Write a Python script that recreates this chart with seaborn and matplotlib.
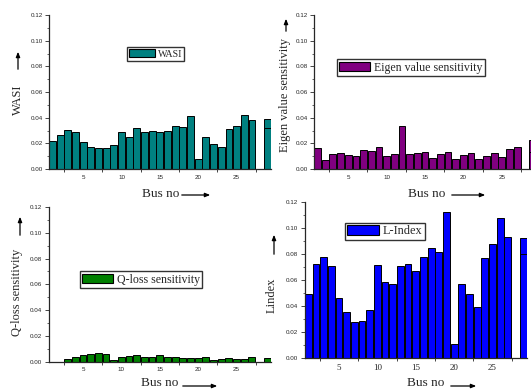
import matplotlib
matplotlib.use("Agg")
import matplotlib.pyplot as plt
import seaborn as sns
import pandas as pd
from matplotlib.patches import Patch
from matplotlib.ticker import FixedLocator, FormatStrFormatter, MultipleLocator

# ---------------- data ----------------
bus = list(range(1, 30))
wasi = [0.0215, 0.0264, 0.0303, 0.0290, 0.0210, 0.0174, 0.0166, 0.0166, 0.0184, 0.0285,
        0.0249, 0.0319, 0.0290, 0.0298, 0.0290, 0.0300, 0.0332, 0.0329, 0.0412, 0.0078,
        0.0246, 0.0197, 0.0174, 0.0308, 0.0332, 0.0420, 0.0381, 0.0, 0.0390]
eigen = [0.0162, 0.0073, 0.0113, 0.0121, 0.0111, 0.0103, 0.0149, 0.0141, 0.0168, 0.0103,
         0.0113, 0.0335, 0.0118, 0.0126, 0.0136, 0.0085, 0.0113, 0.0133, 0.0080, 0.0106,
         0.0128, 0.0080, 0.0101, 0.0121, 0.0090, 0.0153, 0.0173, 0.0, 0.0223]
qloss = [0.0, 0.0, 0.0018, 0.0035, 0.0050, 0.0058, 0.0066, 0.0063, 0.0010, 0.0033,
         0.0043, 0.0053, 0.0035, 0.0038, 0.0053, 0.0038, 0.0033, 0.0025, 0.0025, 0.0025,
         0.0038, 0.0015, 0.0023, 0.0030, 0.0023, 0.0018, 0.0033, 0.0, 0.0025]
lindex = [0.0489, 0.0719, 0.0775, 0.0706, 0.0463, 0.0351, 0.0279, 0.0284, 0.0366, 0.0714,
          0.0583, 0.0565, 0.0704, 0.0719, 0.0670, 0.0775, 0.0842, 0.0811, 0.1123, 0.0105,
          0.0568, 0.0494, 0.0394, 0.0770, 0.0875, 0.1072, 0.0931, 0.0, 0.0925]
# second (overlapping) value drawn on the last bus
last_bus = 29
inner_wasi = 0.0317
inner_eigen = 0.0130
inner_qloss = None
inner_lindex = 0.0798

legend_names = ["WASI", "Eigen value sensitivity", "Q-loss sensitivity", "L-Index"]
ylabels = ["WASI", "Eigen value sensitivity", "Q-loss sensitivity", "Lindex"]
xlabel = "Bus no"
xtick_labels = [5, 10, 15, 20, 25]
ytick_values = [0.00, 0.02, 0.04, 0.06, 0.08, 0.10, 0.12]
colors = ["#008080", "#800080", "#008000", "#0000FF"]

# ---------------- style ----------------
sns.set_style("ticks")
plt.rcParams["font.family"] = ["Liberation Serif", "DejaVu Serif"]

W, H = 531, 390
fig = plt.figure(figsize=(W / 100, H / 100), dpi=100)

def px_axes(l, b, w, h):
    return fig.add_axes([l / W, b / H, w / W, h / H])

panels = [
    dict(vals=wasi, inner=inner_wasi, rect=(49.05, 221, 222.1, 154),
         ylab=(18, 290), yarrow=((18, 318), (18, 341)), ylab_fs=9,
         leg=(155.5, 336), leg_fs=7.2, busx=161, busy=196, busva="center",
         barrow=((179, 195), (213, 195)), xfont=("Liberation Sans", 4.5)),
    dict(vals=eigen, inner=inner_eigen, rect=(314.15, 221, 222.1, 154),
         ylab=(285, 295), yarrow=((286, 356), (286, 374)), ylab_fs=9,
         leg=(411, 322.5), leg_fs=8.6, busx=426.5, busy=196, busva="center",
         barrow=((449, 195), (488, 195)), xfont=("Liberation Sans", 4.5)),
    dict(vals=qloss, inner=inner_qloss, rect=(48.85, 28.3, 222.1, 154.7),
         ylab=(17, 98), yarrow=((20, 152), (20, 176)), ylab_fs=9,
         leg=(141, 110.5), leg_fs=8.6, busx=160, busy=1, busva="bottom",
         barrow=((180, 4), (220, 4)), xfont=("Liberation Sans", 4.5)),
    dict(vals=lindex, inner=inner_lindex, rect=(304.85, 32, 222.1, 156.3),
         ylab=(272, 95), yarrow=((274, 133), (274, 158)), ylab_fs=9,
         leg=(384.7, 158.7), leg_fs=8.8, busx=426, busy=1, busva="bottom",
         barrow=((448, 4), (479, 4)), xfont=("Liberation Serif", 6.5)),
]

for i, p in enumerate(panels):
    ax = px_axes(*p["rect"])
    df = pd.DataFrame({"bus": bus, "value": p["vals"]})
    sns.barplot(data=df, x="bus", y="value", native_scale=True, width=0.9,
                color=colors[i], saturation=1, edgecolor="black", linewidth=0.7,
                errorbar=None, ax=ax)
    if p["inner"] is not None:
        ax.bar(last_bus, p["inner"], width=0.9, color=colors[i],
               edgecolor="black", linewidth=0.7)
    ax.set_xlim(0.55, 29.5)
    ax.set_ylim(0, 0.12)
    ax.set_xlabel("")
    ax.set_ylabel("")
    sns.despine(ax=ax)
    for s in ("left", "bottom"):
        ax.spines[s].set_linewidth(0.9)
    ax.xaxis.set_major_locator(FixedLocator(xtick_labels))
    ax.xaxis.set_minor_locator(FixedLocator([2.5, 7.5, 12.5, 17.5, 22.5, 27.5]))
    ax.yaxis.set_major_locator(FixedLocator(ytick_values))
    ax.yaxis.set_minor_locator(MultipleLocator(0.01))
    ax.yaxis.set_major_formatter(FormatStrFormatter("%.2f"))
    ax.tick_params(axis="x", which="major", length=0, pad=4)
    ax.tick_params(axis="x", which="minor", length=2.5, width=0.6, direction="out")
    ax.tick_params(axis="y", which="major", length=2.6, width=0.6, direction="out", pad=2)
    ax.tick_params(axis="y", which="minor", length=1.5, width=0.5, direction="out")
    for t in ax.get_yticklabels():
        t.set_fontfamily("Liberation Sans")
        t.set_fontsize(4.5)
    for t in ax.get_xticklabels():
        t.set_fontfamily(p["xfont"][0])
        t.set_fontsize(p["xfont"][1])
    ax.set_facecolor("none")

    handle = Patch(facecolor=colors[i], edgecolor="black", linewidth=0.8)
    leg = ax.legend([handle], [legend_names[i]], loc="center",
                    bbox_to_anchor=(p["leg"][0] / W, p["leg"][1] / H),
                    bbox_transform=fig.transFigure, frameon=True, fancybox=False,
                    fontsize=p["leg_fs"], handlelength=2.6, handleheight=0.85,
                    handletextpad=0.3, borderpad=0.2, borderaxespad=0)
    leg.get_frame().set_edgecolor("black")
    leg.get_frame().set_linewidth(1.0)

    # y label with arrow
    fig.text(p["ylab"][0] / W, p["ylab"][1] / H, ylabels[i], rotation=90,
             ha="center", va="center", fontsize=p["ylab_fs"])
    (x0, y0), (x1, y1) = p["yarrow"]
    fig.add_artist(matplotlib.patches.FancyArrowPatch(
        (x0 / W, y0 / H), (x1 / W, y1 / H), transform=fig.transFigure,
        arrowstyle="-|>,head_length=3,head_width=1.2", lw=0.9, color="black"))
    # x label with arrow
    fig.text(p["busx"] / W, p["busy"] / H, xlabel, ha="center", va=p["busva"],
             fontsize=9.5)
    (x0, y0), (x1, y1) = p["barrow"]
    fig.add_artist(matplotlib.patches.FancyArrowPatch(
        (x0 / W, y0 / H), (x1 / W, y1 / H), transform=fig.transFigure,
        arrowstyle="-|>,head_length=3,head_width=1.2", lw=0.9, color="black"))

fig.savefig("out.png", dpi=100)
